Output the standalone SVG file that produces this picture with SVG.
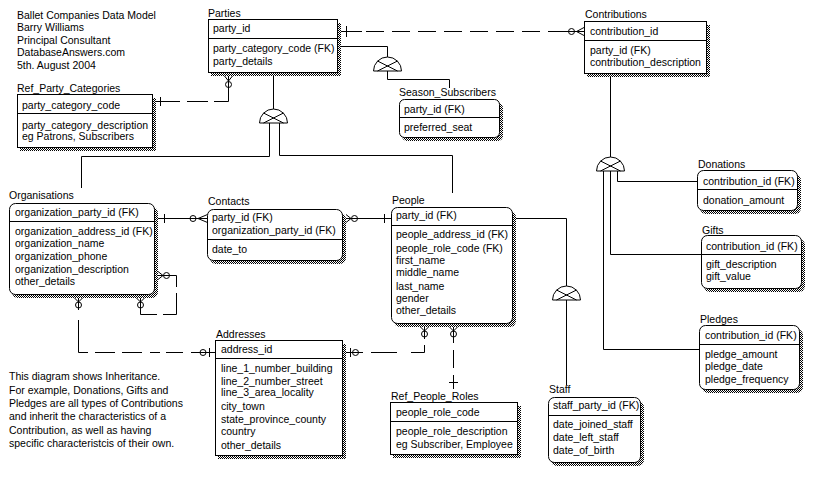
<svg xmlns="http://www.w3.org/2000/svg" width="824" height="486" viewBox="0 0 824 486">
<defs>
<pattern id="hatch" width="2" height="2" patternUnits="userSpaceOnUse"><rect width="2" height="2" fill="#fff"/><rect width="1" height="1" fill="#000"/><rect x="1" y="1" width="1" height="1" fill="#000"/></pattern>
<style>
text{font-family:"Liberation Sans",Arial,sans-serif;font-size:10.5px;fill:#000}
.box{fill:#fff;stroke:#000;stroke-width:1}
.sh{fill:url(#hatch);stroke:none}
.ln{fill:none;stroke:#000;stroke-width:1}
.d{stroke-dasharray:18 8}
.c{fill:none;stroke:#000;stroke-width:1}
.sym{fill:#fff;stroke:#000;stroke-width:1}
</style>
</defs>
<rect width="824" height="486" fill="#fff"/>

<g id="header-note">
<text x="17" y="18.5">Ballet Companies Data Model</text>
<text x="17" y="31">Barry Williams</text>
<text x="17" y="43.5">Principal Consultant</text>
<text x="17" y="56">DatabaseAnswers.com</text>
<text x="17" y="69">5th. August 2004</text>
</g>

<g id="inheritance-note">
<text x="9" y="379.5">This diagram shows Inheritance.</text>
<text x="9" y="393.5">For example, Donations, Gifts and</text>
<text x="9" y="407">Pledges are all types of Contributions</text>
<text x="9" y="420">and inherit the characteristics of a</text>
<text x="9" y="433.5">Contribution, as well as having</text>
<text x="9" y="447">specific characteristcis of their own.</text>
</g>

<g id="connectors">
<!-- Parties - Contributions -->
<path class="ln d" d="M340,31.5 H584"/>
<path class="ln" d="M340,31.5 H362 M562,31.5 H584"/>
<path class="ln" d="M346.5,26 V37"/>
<circle class="c" cx="571.5" cy="31.5" r="3"/>
<path class="ln" d="M584,27.5 L576.5,31.5 L584,35.5"/>

<!-- Parties - Season_Subscribers (subtype) -->
<path class="ln" d="M340,46.5 H387.5 V57"/>
<path class="ln" d="M387.5,71 V79.5 H449.5 V88"/>
<path class="sym" d="M373.5,71 A14,14 0 0 1 401.5,71 Z"/>
<path class="ln" d="M377.5,61 L397.5,71 M397.5,61 L377.5,71"/>

<!-- Parties subtypes: Organisations, People -->
<path class="ln" d="M273.5,74 V109"/>
<path class="ln" d="M269.5,123 V156.5 H81.5 V188"/>
<path class="ln" d="M279.5,123 V155.5 H452.5 V193"/>
<path class="sym" d="M259.5,123 A14,14 0 0 1 287.5,123 Z"/>
<path class="ln" d="M263.5,113 L283.5,123 M283.5,113 L263.5,123"/>

<!-- Parties - Ref_Party_Categories -->
<path class="ln" d="M228.5,76 V101.5"/>
<path class="ln" d="M155,101.5 H180 M187,101.5 H208 M214,101.5 H228.5"/>
<path class="ln" d="M160.5,97 V106"/>
<path class="ln" d="M224.5,76 L228.5,81 L232.5,76"/>
<circle class="c" cx="228.5" cy="84.5" r="3"/>

<!-- Organisations - Contacts -->
<path class="ln" d="M158,218.5 H207.5"/>
<path class="ln" d="M164.5,214 V223"/>
<circle class="c" cx="193" cy="218.5" r="3"/>
<path class="ln" d="M207.5,214.5 L198,218.5 L207.5,222.5"/>

<!-- Contacts - People -->
<path class="ln" d="M346,218.5 H391.5"/>
<path class="ln" d="M346,214.5 L351,218.5 L346,222.5"/>
<circle class="c" cx="354.5" cy="218.5" r="3"/>
<path class="ln" d="M384.5,214 V223"/>

<!-- Organisations self relationship -->
<path class="ln" d="M158,275.5 H176.5 V287 M176.5,293 V314.5 H163 M157,314.5 H140.5 V298"/>
<path class="ln" d="M158,271.5 L163,275.5 L158,279.5"/>
<circle class="c" cx="166.5" cy="275.5" r="3"/>
<path class="ln" d="M136.5,298 L140.5,302 L144.5,298"/>
<circle class="c" cx="140.5" cy="305" r="3"/>

<!-- Organisations - Addresses -->
<path class="ln" d="M78.5,298 V310 M78.5,320 V352.5 H88 M95,352.5 H115 M122,352.5 H142 M150,352.5 H160 M166,352.5 H183 M191,352.5 H215.5"/>
<path class="ln" d="M74.5,298 L78.5,302 L82.5,298"/>
<circle class="c" cx="78.5" cy="305" r="3"/>
<circle class="c" cx="203" cy="352.5" r="3"/>
<path class="ln" d="M209.5,348 V357"/>

<!-- People - Addresses -->
<path class="ln" d="M424.5,327 V339 M424.5,345 V352.5 H411 M397,352.5 H371 M363,352.5 H346"/>
<path class="ln" d="M420.5,327 L424.5,331 L428.5,327"/>
<circle class="c" cx="424.5" cy="334" r="3"/>
<path class="ln" d="M350.5,348 V357"/>
<circle class="c" cx="355.5" cy="352.5" r="3"/>

<!-- People - Ref_People_Roles -->
<path class="ln" d="M453.5,327 V343 M453.5,350 V368 M453.5,375 V389"/>
<path class="ln" d="M449.5,327 L453.5,331 L457.5,327"/>
<circle class="c" cx="453.5" cy="334" r="3"/>
<path class="ln" d="M449,382.5 H458"/>

<!-- People - Staff (subtype) -->
<path class="ln" d="M516,218.5 H566.5 V286"/>
<path class="ln" d="M566.5,300 V385"/>
<path class="sym" d="M552.5,300 A14,14 0 0 1 580.5,300 Z"/>
<path class="ln" d="M556.5,290 L576.5,300 M576.5,290 L556.5,300"/>

<!-- Contributions subtypes -->
<path class="ln" d="M610.5,77 V157"/>
<path class="ln" d="M617.5,171 V181.5 H697.5"/>
<path class="ln" d="M610.5,171 V254.5 H701.5"/>
<path class="ln" d="M603.5,171 V349.5 H699.5"/>
<path class="sym" d="M596.5,171 A14,14 0 0 1 624.5,171 Z"/>
<path class="ln" d="M600.5,161 L620.5,171 M620.5,161 L600.5,171"/>
</g>

<g id="parties">
<rect class="sh" x="211" y="23" width="130" height="53"/>
<rect class="box" x="208.5" y="19.5" width="129" height="53"/>
<line class="ln" x1="208.5" y1="38.5" x2="337.5" y2="38.5"/>
<text x="208" y="16.5">Parties</text>
<text x="213" y="32">party_id</text>
<text x="213" y="52">party_category_code (FK)</text>
<text x="213" y="64.5">party_details</text>
</g>

<g id="ref-party-categories">
<rect class="sh" x="20" y="98" width="136" height="53"/>
<rect class="box" x="17.5" y="94.5" width="135" height="53"/>
<line class="ln" x1="17.5" y1="113.5" x2="152.5" y2="113.5"/>
<text x="17" y="91.5">Ref_Party_Categories</text>
<text x="22" y="108.5">party_category_code</text>
<text x="22" y="129">party_category_description</text>
<text x="22" y="140">eg Patrons, Subscribers</text>
</g>

<g id="contributions">
<rect class="sh" x="587" y="25" width="123" height="52"/>
<rect class="box" x="584.5" y="21.5" width="122" height="52"/>
<line class="ln" x1="584.5" y1="40.5" x2="706.5" y2="40.5"/>
<text x="585" y="18">Contributions</text>
<text x="590" y="34.5">contribution_id</text>
<text x="590" y="53.5">party_id (FK)</text>
<text x="590" y="65.5">contribution_description</text>
</g>

<g id="season-subscribers">
<rect class="sh" x="402" y="103" width="101" height="38" rx="5"/>
<rect class="box" x="399.5" y="99.5" width="100" height="38" rx="5"/>
<line class="ln" x1="399.5" y1="117.5" x2="499.5" y2="117.5"/>
<text x="399" y="96">Season_Subscribers</text>
<text x="404" y="112.5">party_id (FK)</text>
<text x="404" y="131">preferred_seat</text>
</g>

<g id="organisations">
<rect class="sh" x="12" y="207" width="146" height="91" rx="6"/>
<rect class="box" x="9.5" y="203.5" width="145" height="91" rx="6"/>
<line class="ln" x1="9.5" y1="221.5" x2="154.5" y2="221.5"/>
<text x="9" y="198.5">Organisations</text>
<text x="15" y="215.5">organization_party_id (FK)</text>
<text x="15" y="234.5">organization_address_id (FK)</text>
<text x="15" y="247">organization_name</text>
<text x="15" y="260">organization_phone</text>
<text x="15" y="272.5">organization_description</text>
<text x="15" y="284.5">other_details</text>
</g>

<g id="contacts">
<rect class="sh" x="210" y="213" width="136" height="51" rx="6"/>
<rect class="box" x="207.5" y="209.5" width="135" height="51" rx="6"/>
<line class="ln" x1="207.5" y1="239.5" x2="342.5" y2="239.5"/>
<text x="208" y="205">Contacts</text>
<text x="212" y="221">party_id (FK)</text>
<text x="212" y="234">organization_party_id (FK)</text>
<text x="212" y="252.5">date_to</text>
</g>

<g id="people">
<rect class="sh" x="394" y="211" width="122" height="116" rx="6"/>
<rect class="box" x="391.5" y="207.5" width="121" height="116" rx="6"/>
<line class="ln" x1="391.5" y1="225.5" x2="512.5" y2="225.5"/>
<text x="392" y="203.5">People</text>
<text x="396" y="219">party_id (FK)</text>
<text x="396" y="238">people_address_id (FK)</text>
<text x="396" y="251.5">people_role_code (FK)</text>
<text x="396" y="264">first_name</text>
<text x="396" y="276">middle_name</text>
<text x="396" y="289.5">last_name</text>
<text x="396" y="302">gender</text>
<text x="396" y="313.5">other_details</text>
</g>

<g id="addresses">
<rect class="sh" x="218" y="344" width="128" height="115"/>
<rect class="box" x="215.5" y="340.5" width="127" height="115"/>
<line class="ln" x1="215.5" y1="358.5" x2="342.5" y2="358.5"/>
<text x="216" y="337.5">Addresses</text>
<text x="221" y="353">address_id</text>
<text x="221" y="372">line_1_number_building</text>
<text x="221" y="385">line_2_number_street</text>
<text x="221" y="396">line_3_area_locality</text>
<text x="221" y="410">city_town</text>
<text x="221" y="423">state_province_county</text>
<text x="221" y="434.5">country</text>
<text x="221" y="448.5">other_details</text>
</g>

<g id="ref-people-roles">
<rect class="sh" x="393" y="406" width="128" height="52"/>
<rect class="box" x="390.5" y="402.5" width="127" height="52"/>
<line class="ln" x1="390.5" y1="421.5" x2="517.5" y2="421.5"/>
<text x="391" y="400">Ref_People_Roles</text>
<text x="396" y="416">people_role_code</text>
<text x="396" y="435">people_role_description</text>
<text x="396" y="447.5">eg Subscriber, Employee</text>
</g>

<g id="staff">
<rect class="sh" x="551" y="401" width="93" height="65" rx="6"/>
<rect class="box" x="548.5" y="397.5" width="92" height="65" rx="6"/>
<line class="ln" x1="548.5" y1="415.5" x2="640.5" y2="415.5"/>
<text x="549" y="392.5">Staff</text>
<text x="553" y="409">staff_party_id (FK)</text>
<text x="553" y="428">date_joined_staff</text>
<text x="553" y="441">date_left_staff</text>
<text x="553" y="454">date_of_birth</text>
</g>

<g id="donations">
<rect class="sh" x="700" y="174" width="101" height="40" rx="6"/>
<rect class="box" x="697.5" y="170.5" width="100" height="40" rx="6"/>
<line class="ln" x1="697.5" y1="189.5" x2="797.5" y2="189.5"/>
<text x="698" y="168">Donations</text>
<text x="703" y="184.5">contribution_id (FK)</text>
<text x="703" y="203.5">donation_amount</text>
</g>

<g id="gifts">
<rect class="sh" x="704" y="239" width="101" height="53" rx="6"/>
<rect class="box" x="701.5" y="235.5" width="100" height="53" rx="6"/>
<line class="ln" x1="701.5" y1="254.5" x2="801.5" y2="254.5"/>
<text x="702" y="233.5">Gifts</text>
<text x="706" y="249.5">contribution_id (FK)</text>
<text x="706" y="268">gift_description</text>
<text x="706" y="280">gift_value</text>
</g>

<g id="pledges">
<rect class="sh" x="702" y="329" width="101" height="64" rx="6"/>
<rect class="box" x="699.5" y="325.5" width="100" height="64" rx="6"/>
<line class="ln" x1="699.5" y1="344.5" x2="799.5" y2="344.5"/>
<text x="700" y="322.5">Pledges</text>
<text x="705" y="338.5">contribution_id (FK)</text>
<text x="705" y="357.5">pledge_amount</text>
<text x="705" y="370">pledge_date</text>
<text x="705" y="382.5">pledge_frequency</text>
</g>
</svg>
